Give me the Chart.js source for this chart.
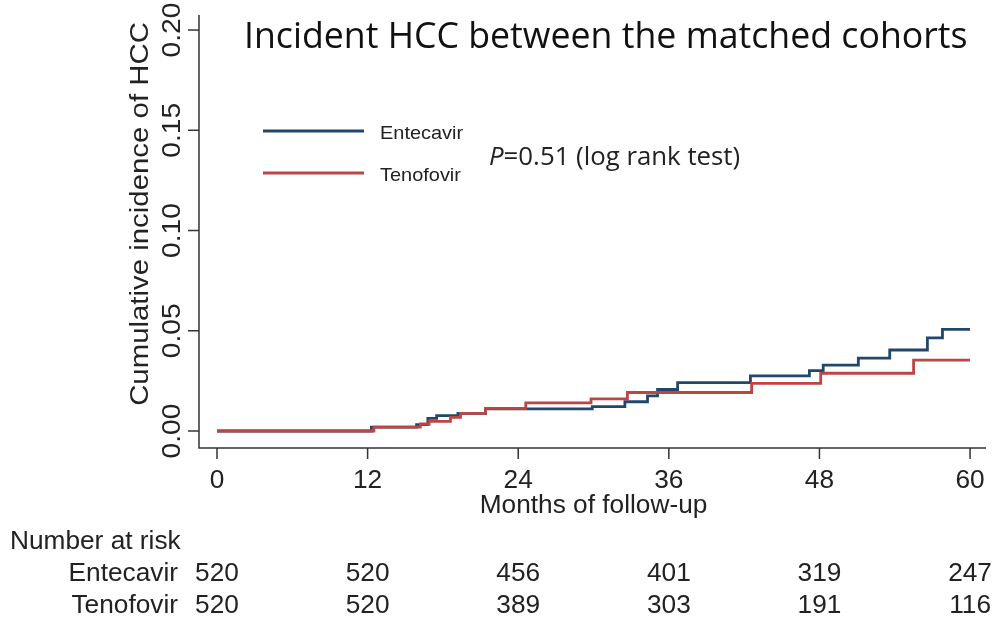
<!DOCTYPE html>
<html>
<head>
<meta charset="utf-8">
<title>Incident HCC between the matched cohorts</title>
<script src="https://cdn.jsdelivr.net/npm/chart.js@4/dist/chart.umd.min.js"></script>
<style>
  html, body { margin: 0; padding: 0; background: #fff; }
  canvas { display: block; }
</style>
</head>
<body>
<canvas id="km" width="997" height="620"></canvas>
<script>
// Kaplan-Meier cumulative incidence of HCC, step times in months
const entecavirMonths = [0, 12.3, 15.9, 16.8, 17.5, 19.2, 21.4, 29.9, 32.5, 34.3, 35.1, 36.7, 42.5, 47.2, 48.3, 51.1, 53.6, 56.6, 57.8, 60];
const entecavirIncidence = [0, 0.0019, 0.0032, 0.0063, 0.0077, 0.0088, 0.0110, 0.0122, 0.0146, 0.0175, 0.0207, 0.0241, 0.0275, 0.0301, 0.0329, 0.0363, 0.0404, 0.0465, 0.0507, 0.0507];

const tenofovirMonths = [0, 12.5, 16.2, 16.9, 18.6, 19.4, 21.4, 24.6, 29.8, 32.7, 42.6, 48.1, 55.5, 60];
const tenofovirIncidence = [0, 0.0019, 0.0035, 0.0048, 0.0068, 0.0088, 0.0113, 0.0140, 0.0160, 0.0192, 0.0238, 0.0288, 0.0354, 0.0354];

// Axis ticks
const monthTicks = [0, 12, 24, 36, 48, 60];
const incidenceTicks = [0, 0.05, 0.10, 0.15, 0.20];

// Number at risk at each month tick
const riskGroups = ['Entecavir', 'Tenofovir'];
const entecavirAtRisk = [520, 520, 456, 401, 319, 247];
const tenofovirAtRisk = [520, 520, 389, 303, 191, 116];

const BLUE = '#22476d';
const RED = '#bb4644';
const INK = '#222222';
const SANS = '"Liberation Sans", Arial, sans-serif';
const UI = '"Open Sans", "Noto Sans", sans-serif';

function toPoints(xs, ys) {
  return xs.map((x, i) => ({ x: x, y: ys[i] }));
}

// draws a string, optionally rotated and stretched along its own direction
function text(ctx, str, x, y, opts) {
  ctx.save();
  ctx.translate(x, y);
  if (opts.rotate) ctx.rotate(opts.rotate);
  if (opts.stretch) ctx.scale(opts.stretch, 1);
  ctx.font = opts.font;
  ctx.fillStyle = opts.color || INK;
  ctx.textAlign = opts.align || 'left';
  ctx.textBaseline = opts.baseline || 'alphabetic';
  ctx.fillText(str, 0, 0);
  ctx.restore();
}

function fitFont(ctx, str, family, width) {
  ctx.save();
  ctx.font = '40px ' + family;
  const w = ctx.measureText(str).width;
  ctx.restore();
  return 40 * width / w;
}

const H_STRETCH = 1.05;
const V_STRETCH = 1.13;

const decorations = {
  id: 'kmDecorations',
  afterDraw(chart) {
    const ctx = chart.ctx;
    const xs = chart.scales.x;
    const ys = chart.scales.y;
    const area = chart.chartArea;

    ctx.save();
    ctx.strokeStyle = '#333333';
    ctx.lineWidth = 1.5;

    // axis lines
    ctx.beginPath();
    ctx.moveTo(area.left, area.top);
    ctx.lineTo(area.left, area.bottom);
    ctx.lineTo(area.right, area.bottom);
    ctx.stroke();

    // y ticks and rotated labels
    incidenceTicks.forEach(v => {
      const py = ys.getPixelForValue(v);
      ctx.beginPath();
      ctx.moveTo(area.left - 11, py);
      ctx.lineTo(area.left, py);
      ctx.stroke();
      text(ctx, v.toFixed(2), area.left - 19, py, {
        font: '25px ' + SANS, align: 'center', rotate: -Math.PI / 2, stretch: V_STRETCH
      });
    });

    // x ticks and labels
    monthTicks.forEach(v => {
      const px = xs.getPixelForValue(v);
      ctx.beginPath();
      ctx.moveTo(px, area.bottom);
      ctx.lineTo(px, area.bottom + 11);
      ctx.stroke();
      text(ctx, String(v), px, 488, { font: '25px ' + SANS, align: 'center', stretch: H_STRETCH });
    });
    ctx.restore();

    // axis titles
    const midX = (xs.getPixelForValue(0) + xs.getPixelForValue(60)) / 2;
    text(ctx, 'Months of follow-up', midX, 513, { font: '25px ' + SANS, align: 'center', stretch: H_STRETCH });
    text(ctx, 'Cumulative incidence of HCC', 148, 214, {
      font: '26px ' + SANS, align: 'center', rotate: -Math.PI / 2, stretch: V_STRETCH
    });

    // chart title
    const titleStr = 'Incident HCC between the matched cohorts';
    const tSize = fitFont(ctx, titleStr, UI, 724);
    text(ctx, titleStr, 244, 48, { font: tSize.toFixed(1) + 'px ' + UI, color: '#111' });

    // legend
    const legend = [
      { label: 'Entecavir', color: BLUE, y: 131 },
      { label: 'Tenofovir', color: RED, y: 173 }
    ];
    legend.forEach(item => {
      ctx.save();
      ctx.strokeStyle = item.color;
      ctx.lineWidth = 2.8;
      ctx.beginPath();
      ctx.moveTo(263, item.y);
      ctx.lineTo(364, item.y);
      ctx.stroke();
      ctx.restore();
      text(ctx, item.label, 380, item.y + 8, { font: '19px ' + SANS, stretch: H_STRETCH });
    });

    // log-rank annotation, italic P
    const pSize = fitFont(ctx, 'P=0.51 (log rank test)', UI, 252);
    ctx.save();
    ctx.font = 'italic ' + pSize.toFixed(1) + 'px ' + UI;
    const pW = ctx.measureText('P').width;
    ctx.restore();
    text(ctx, 'P', 489, 165, { font: 'italic ' + pSize.toFixed(1) + 'px ' + UI });
    text(ctx, '=0.51 (log rank test)', 489 + pW, 165, { font: pSize.toFixed(1) + 'px ' + UI });

    // number at risk table
    text(ctx, 'Number at risk', 10, 549, { font: '25px ' + SANS, stretch: H_STRETCH });
    const rows = [entecavirAtRisk, tenofovirAtRisk];
    const rowY = [581, 613];
    rows.forEach((vals, r) => {
      text(ctx, riskGroups[r], 178, rowY[r], { font: '25px ' + SANS, align: 'right', stretch: H_STRETCH });
      vals.forEach((n, i) => {
        text(ctx, String(n), xs.getPixelForValue(monthTicks[i]), rowY[r], {
          font: '25px ' + SANS, align: 'center', stretch: H_STRETCH
        });
      });
    });
  }
};

new Chart(document.getElementById('km'), {
  type: 'line',
  data: {
    datasets: [
      {
        label: 'Entecavir',
        data: toPoints(entecavirMonths, entecavirIncidence),
        borderColor: BLUE,
        borderWidth: 2.8,
        stepped: 'before',
        pointRadius: 0,
        fill: false,
        order: 2
      },
      {
        label: 'Tenofovir',
        data: toPoints(tenofovirMonths, tenofovirIncidence),
        borderColor: RED,
        borderWidth: 2.8,
        stepped: 'before',
        pointRadius: 0,
        fill: false,
        order: 1
      }
    ]
  },
  options: {
    responsive: false,
    animation: false,
    devicePixelRatio: 1,
    layout: { padding: { left: 199, right: 11, top: 15, bottom: 172 } },
    scales: {
      x: { type: 'linear', min: -1.434, max: 61.27, display: false },
      y: { type: 'linear', min: -0.00848, max: 0.2075, display: false }
    },
    plugins: {
      legend: { display: false },
      tooltip: { enabled: false },
      title: { display: false }
    }
  },
  plugins: [decorations]
});
</script>
</body>
</html>
